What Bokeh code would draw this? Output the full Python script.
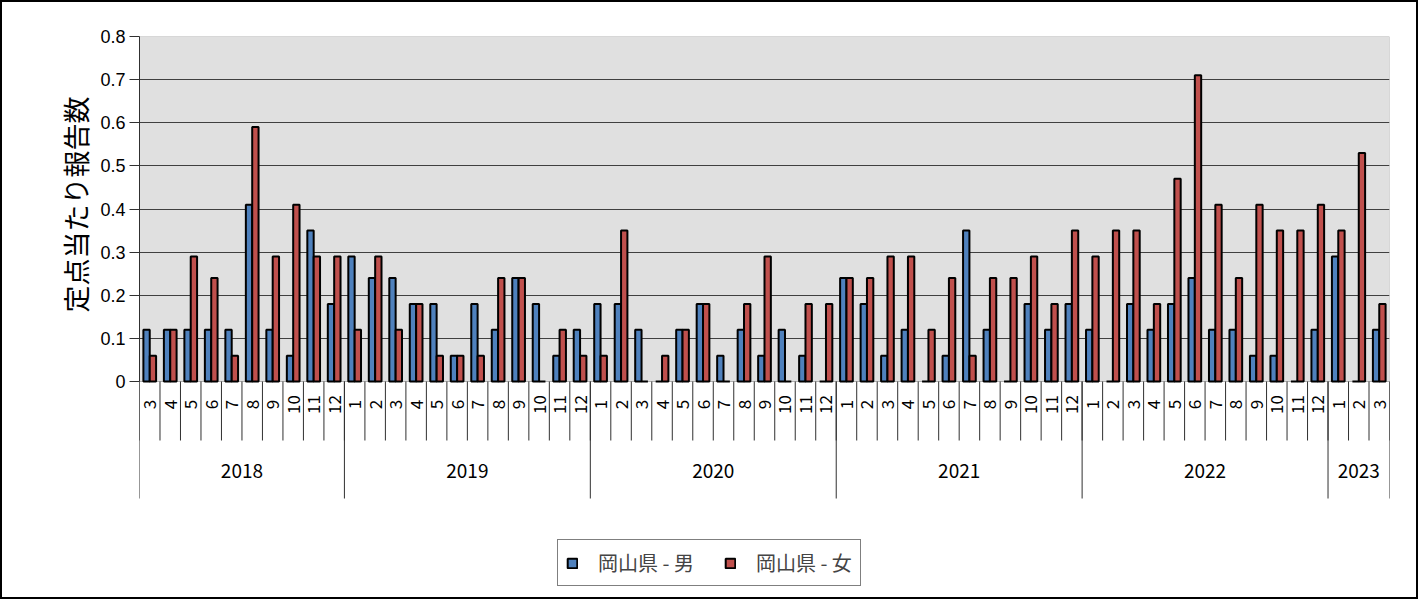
import numpy as np
from bokeh.plotting import figure
from bokeh.models import ColumnDataSource, Range1d, FixedTicker, BoxAnnotation, Legend, Title
from bokeh.transform import dodge
from bokeh.core.properties import value
from bokeh.embed import file_html
from bokeh.resources import INLINE

# ---------------- data ----------------
year_names = ["2018", "2019", "2020", "2021", "2022", "2023"]
year_months = [
    [3, 4, 5, 6, 7, 8, 9, 10, 11, 12],
    [1, 2, 3, 4, 5, 6, 7, 8, 9, 10, 11, 12],
    [1, 2, 3, 4, 5, 6, 7, 8, 9, 10, 11, 12],
    [1, 2, 3, 4, 5, 6, 7, 8, 9, 10, 11, 12],
    [1, 2, 3, 4, 5, 6, 7, 8, 9, 10, 11, 12],
    [1, 2, 3],
]
male = [
    0.12, 0.12, 0.12, 0.12, 0.12, 0.41, 0.12, 0.06, 0.35, 0.18,
    0.29, 0.24, 0.24, 0.18, 0.18, 0.06, 0.18, 0.12, 0.24, 0.18, 0.06, 0.12,
    0.18, 0.18, 0.12, 0.00, 0.12, 0.18, 0.06, 0.12, 0.06, 0.12, 0.06, 0.00,
    0.24, 0.18, 0.06, 0.12, 0.00, 0.06, 0.35, 0.12, 0.00, 0.18, 0.12, 0.18,
    0.12, 0.00, 0.18, 0.12, 0.18, 0.24, 0.12, 0.12, 0.06, 0.06, 0.00, 0.12,
    0.29, 0.00, 0.12,
]
female = [
    0.06, 0.12, 0.29, 0.24, 0.06, 0.59, 0.29, 0.41, 0.29, 0.29,
    0.12, 0.29, 0.12, 0.18, 0.06, 0.06, 0.06, 0.24, 0.24, 0.00, 0.12, 0.06,
    0.06, 0.35, 0.00, 0.06, 0.12, 0.18, 0.00, 0.18, 0.29, 0.00, 0.18, 0.18,
    0.24, 0.24, 0.29, 0.29, 0.12, 0.24, 0.06, 0.24, 0.24, 0.29, 0.18, 0.35,
    0.29, 0.35, 0.35, 0.18, 0.47, 0.71, 0.41, 0.24, 0.41, 0.35, 0.35, 0.41,
    0.35, 0.53, 0.18,
]
series_names = ["岡山県 - 男", "岡山県 - 女"]
y_ticks = [0, 0.1, 0.2, 0.3, 0.4, 0.5, 0.6, 0.7, 0.8]
y_title = "定点当たり報告数"

# ---------------- layout helpers ----------------
W, H = 1418, 599            # + 2px border on each side = 1422 x 603
OFF = 2                     # border width
FRAME_LEFT, FRAME_RIGHT, FRAME_TOP = 137, 1387, 34
PX_PER_UNIT = 345 / 0.8
Y_MAX = 0.8
y_bottom = Y_MAX - (H - FRAME_TOP) / PX_PER_UNIT

month_labels = [str(m) for ms in year_months for m in ms]
n = len(month_labels)


def sy(screen_y):
    return Y_MAX - (screen_y - OFF - FRAME_TOP) / PX_PER_UNIT


xc = np.arange(n) + 0.5
year_sizes = [len(ms) for ms in year_months]
year_edges = np.concatenate([[0], np.cumsum(year_sizes)])
year_centers = (year_edges[:-1] + year_edges[1:]) / 2

p = figure(width=W, height=H, x_range=Range1d(0, n), y_range=Range1d(y_bottom, Y_MAX),
           output_backend="svg", toolbar_location=None,
           min_border_left=FRAME_LEFT, min_border_right=W - FRAME_RIGHT,
           min_border_top=FRAME_TOP, min_border_bottom=0,
           x_axis_location=None, outline_line_color=None,
           background_fill_color="white", border_fill_color="white")
p.styles = {"border": "2px solid black"}

# plot area background
p.add_layout(BoxAnnotation(left=0, right=n, bottom=0, top=Y_MAX, fill_color="#e0e0e0",
                           fill_alpha=1, line_color="#202020", line_width=1, level="image"))

# y axis
ax = p.yaxis[0]
ax.bounds = (0, Y_MAX)
ax.ticker = FixedTicker(ticks=y_ticks)
ax.major_label_overrides = {0: "0"}
ax.major_label_text_font = "Liberation Sans"
ax.major_label_text_font_size = "18px"
ax.major_label_text_color = "black"
ax.major_label_standoff = 4
ax.major_tick_out = 10
ax.major_tick_in = 0
ax.minor_tick_line_color = None
ax.axis_line_color = "#303030"
ax.major_tick_line_color = "#303030"

# y axis title, anchored near the top so it sits beside the plotted value range
p.add_layout(Title(text=y_title, align="right", offset=60,
                   text_font="Noto Sans CJK JP", text_font_size="27px",
                   text_font_style="normal", text_color="black", standoff=6), "left")

p.xgrid.visible = False
p.ygrid.ticker = FixedTicker(ticks=y_ticks[1:])
p.ygrid.grid_line_color = "#404040"
p.ygrid.grid_line_width = 1

# bars
bw = 0.31
src = ColumnDataSource(dict(x=xc, male=male, female=female))
r1 = p.vbar(x=dodge("x", -bw / 2), top="male", width=bw, source=src,
            fill_color="#4f81bd", line_color="black", line_width=2)
r2 = p.vbar(x=dodge("x", bw / 2), top="female", width=bw, source=src,
            fill_color="#c0504d", line_color="black", line_width=2)

# category separators
sep_x = np.arange(n + 1)
p.segment(x0=sep_x, y0=0, x1=sep_x, y1=sy(440), line_color="#303030", line_width=1)
p.segment(x0=year_edges, y0=0, x1=year_edges, y1=sy(498), line_color="#303030", line_width=1)

# labels
p.text(x=xc, y=sy(404), text=month_labels, angle=np.pi / 2, text_align="center",
       text_baseline="middle", text_font=value("Noto Sans CJK JP"),
       text_font_size="17px", text_color="black")
p.text(x=year_centers, y=sy(470), text=year_names, text_align="center",
       text_baseline="middle", text_font=value("Noto Sans CJK JP"),
       text_font_size="19px", text_color="black")

legend = Legend(items=[(series_names[0], [r1]), (series_names[1], [r2])],
                orientation="horizontal", location=(418, 15),
                border_line_color="black", border_line_width=1,
                label_text_font="Noto Sans CJK JP", label_text_font_size="20px",
                glyph_width=12, glyph_height=12, spacing=30, padding=8, margin=0,
                label_standoff=20, background_fill_alpha=1)
p.add_layout(legend, "center")

open("out.html", "w").write(file_html(p, INLINE))
